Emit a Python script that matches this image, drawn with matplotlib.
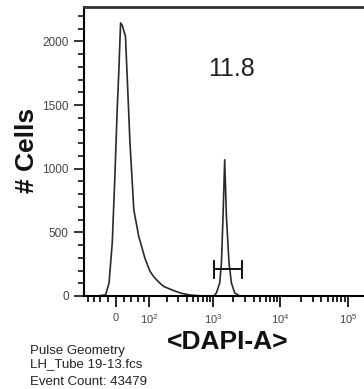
import matplotlib.pyplot as plt

plt.rcParams['font.family'] = ['Liberation Sans', 'DejaVu Sans']
plt.rcParams['mathtext.fontset'] = 'custom'
plt.rcParams['mathtext.rm'] = 'Liberation Sans'
plt.rcParams['mathtext.it'] = 'Liberation Sans:italic'
plt.rcParams['mathtext.bf'] = 'Liberation Sans:bold'

# histogram trace (DAPI-A value, cell count)
dapi = [-95, -50, -26, -17, -9, -2.5, 3.2, 7.4, 11.6, 16, 24, 28.5, 36, 47, 62, 84,
        104, 122, 153, 178, 247, 330, 447, 600, 803,
        1020, 1119, 1251, 1328, 1402, 1485, 1574, 1721, 1868, 2090, 2477, 262144]
cells = [0, 0, 8, 102, 417, 938, 1463, 1777, 2145, 2124, 2039, 1725, 1203, 676, 470, 295,
         195, 150, 102, 75, 45, 22, 8, 2, 0,
         0, 24, 102, 260, 624, 1070, 624, 260, 102, 24, 0, 0]

# gate
gate_lo, gate_hi = 1020, 2650
gate_y = 212
gate_cap = (140, 275)
gate_pct = "11.8"

x_major = [0, 100, 1000, 10000, 100000]
x_major_labels = ['0', r'$10^2$', r'$10^3$', r'$10^4$', r'$10^5$']
x_minor = [-80, -60, -40, -20, 20, 40, 60, 80,
           200, 300, 400, 500, 600, 700, 800, 900,
           2000, 3000, 4000, 5000, 6000, 7000, 8000, 9000,
           20000, 30000, 40000, 50000, 60000, 70000, 80000, 90000, 200000]
y_major = [0, 500, 1000, 1500, 2000]
y_minor = [v for v in range(0, 2300, 100) if v % 500]

info_lines = ['Pulse Geometry', 'LH_Tube 19-13.fcs', 'Event Count: 43479']

W, H = 364, 389
fig = plt.figure(figsize=(W / 100, H / 100), dpi=100)
ax = fig.add_axes([84 / W, 1 - 296 / H, (376 - 84) / W, (296 - 7) / H])

ax.set_xscale('asinh', linear_width=72)
ax.plot(dapi, cells, color='#2a2a2a', lw=1.2, solid_joinstyle='round')

# gate bar with end caps
ax.plot([gate_lo, gate_hi], [gate_y, gate_y], color='#111', lw=1.4)
for gx in (gate_lo, gate_hi):
    ax.plot([gx, gx], gate_cap, color='#111', lw=1.4)

ax.set_xlim(-95, 262144)
ax.set_ylim(0, 2270)

ax.set_xticks(x_major, x_major_labels)
ax.set_xticks(x_minor, minor=True)
ax.set_yticks(y_major, [str(v) for v in y_major])
ax.set_yticks(y_minor, minor=True)

ax.tick_params(axis='x', which='major', direction='out', length=8, width=1.2,
               labelsize=8, labelcolor='#444', pad=4)
ax.tick_params(axis='x', which='minor', direction='out', length=4.5, width=1.2)
ax.tick_params(axis='y', which='major', direction='out', length=7, width=1.1,
               labelsize=8.5, labelcolor='#444', pad=4)
ax.tick_params(axis='y', which='minor', direction='out', length=4, width=1.1)

for side in ('left', 'bottom'):
    ax.spines[side].set_linewidth(1.5)
ax.spines['top'].set_linewidth(2)
ax.spines['top'].set_color('#333')
ax.spines['right'].set_visible(False)

fig.text(27 / W, 1 - 150 / H, '# Cells', rotation=90, ha='center', va='center',
         fontsize=19, fontweight='bold', color='#111')
fig.text(228 / W, 1 - 342 / H, '<DAPI-A>', ha='center', va='center',
         fontsize=19, fontweight='bold', color='#111')
fig.text(232 / W, 1 - 69 / H, gate_pct, ha='center', va='center',
         fontsize=18, color='#222')

for txt, yp in zip(info_lines, [351, 364, 382]):
    fig.text(30 / W, 1 - yp / H, txt, ha='left', va='center', fontsize=9.5, color='#222')

fig.savefig('out.png', dpi=100)
